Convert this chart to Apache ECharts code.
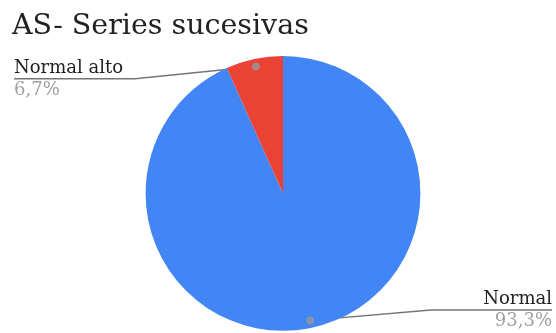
<!DOCTYPE html>
<html>
<head>
<meta charset="utf-8">
<script src="https://cdn.jsdelivr.net/npm/echarts@6/dist/echarts.min.js"></script>
<style>
  html, body { margin: 0; padding: 0; background: #fff; }
  #chart { width: 556px; height: 333px; }
</style>
</head>
<body>
<div id="chart"></div>
<script>
// Share of each category
const categories = ['Normal', 'Normal alto'];
const values = [93.3, 6.7];
const percentLabels = ['93,3%', '6,7%'];
const colors = ['#4285F4', '#EA4335'];

// Pie geometry (pixels)
const W = 556;
const CX = 283, CY = 193.4, R = 137.4;
const DOT_R = 0.945;     // radial position of the leader-line dot
const LINE_R = 0.841;    // vertical offset of the label line from the centre
const LINE_DY = 1;       // small downward nudge of both label lines
const EDGE_L = 14;       // left label inset
const EDGE_R = 4;        // right label inset
const TAIL = 121;        // horizontal part of the leader line

const total = values.reduce((a, b) => a + b, 0);
const serif = 'DejaVu Serif';

// Mid point of each slice along the value scale, for the dots
let acc = 0;
const dotData = values.map(v => {
  const mid = acc + v / 2;
  acc += v;
  return [DOT_R, mid];
});

const chart = echarts.init(document.getElementById('chart'), null, { renderer: 'canvas' });

chart.setOption({
  animation: false,
  backgroundColor: '#ffffff',
  title: {
    text: 'AS- Series sucesivas',
    left: 12,
    top: 12,
    padding: 0,
    textStyle: { fontFamily: serif, fontSize: 28.5, fontWeight: 'normal', color: '#222222' }
  },
  polar: { center: [CX, CY], radius: R },
  angleAxis: {
    type: 'value', min: 0, max: total, startAngle: 90, clockwise: true,
    show: false, axisLine: { show: false }, splitLine: { show: false },
    axisTick: { show: false }, axisLabel: { show: false }
  },
  radiusAxis: {
    type: 'value', min: 0, max: 1, show: false,
    axisLine: { show: false }, splitLine: { show: false },
    axisTick: { show: false }, axisLabel: { show: false }
  },
  series: [
    {
      type: 'pie',
      center: [CX, CY],
      radius: R,
      startAngle: 90,
      clockwise: true,
      silent: true,
      data: categories.map((name, i) => ({
        name: name,
        value: values[i],
        itemStyle: { color: colors[i] },
        label: { formatter: '{n|' + name + '}\n{p|' + percentLabels[i] + '}' }
      })),
      label: {
        show: true,
        position: 'outside',
        rich: {
          n: { fontFamily: serif, fontSize: 18, color: '#222222', lineHeight: 22 },
          p: { fontFamily: serif, fontSize: 18, color: '#9e9e9e', lineHeight: 22 }
        }
      },
      labelLine: {
        show: true,
        length: 10,
        length2: 20,
        smooth: false,
        lineStyle: { color: '#747474', width: 1.5 }
      },
      labelLayout: function (p) {
        const pts = p.labelLinePoints;
        if (!pts) return {};
        const ang = Math.atan2(pts[0][1] - CY, pts[0][0] - CX);
        const ux = Math.cos(ang), uy = Math.sin(ang);
        const left = ux < 0;
        const lineY = CY + (uy < 0 ? -1 : 1) * R * LINE_R + LINE_DY;
        const start = [CX + ux * R * DOT_R, CY + uy * R * DOT_R];
        const edgeX = left ? EDGE_L : W - EDGE_R;
        const turnX = edgeX + (left ? 1 : -1) * TAIL;
        return {
          x: edgeX,
          y: lineY,
          align: left ? 'left' : 'right',
          verticalAlign: 'middle',
          labelLinePoints: [start, [turnX, lineY], [edgeX, lineY]]
        };
      },
      z: 2
    },
    {
      type: 'scatter',
      coordinateSystem: 'polar',
      data: dotData,
      symbol: 'circle',
      symbolSize: 8,
      itemStyle: { color: '#999999' },
      silent: true,
      z: 5
    }
  ]
});
</script>
</body>
</html>
